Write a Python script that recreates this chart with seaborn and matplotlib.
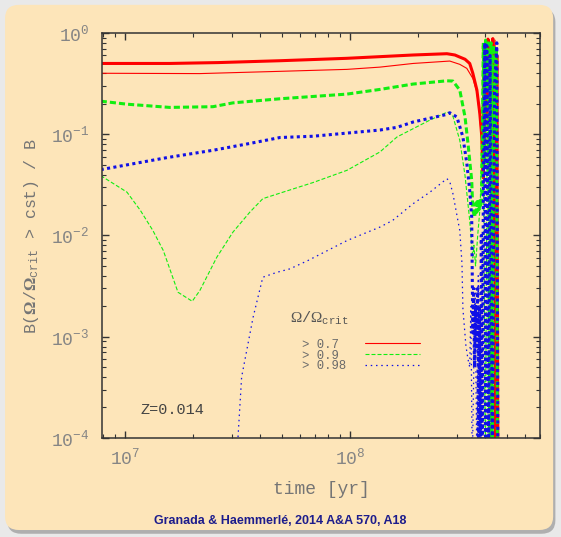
import numpy as np
import pandas as pd
import matplotlib
matplotlib.use("Agg")
import matplotlib.pyplot as plt
import seaborn as sns
from matplotlib.patches import FancyBboxPatch
from matplotlib.ticker import LogLocator, FuncFormatter, NullFormatter

# ---------------- data (time in yr, fraction B(Omega/Omega_crit > cst)/B) ----------------
red_thick_t = [7.8e6, 1.58e7, 2.6e7, 4.89e7, 9.7e7, 1.91e8, 2.70e8, 2.93e8, 3.08e8, 3.25e8,
               3.41e8, 3.52e8, 3.67e8, 3.78e8, 3.86e8, 3.90e8, 3.92e8, 3.94e8, 3.97e8, 4.02e8,
               4.06e8, 4.11e8, 4.17e8, 4.22e8, 4.28e8, 4.32e8, 4.38e8, 4.45e8, 4.50e8, 4.55e8]
red_thick_b = [0.50, 0.50, 0.51, 0.532, 0.562, 0.606, 0.624, 0.606, 0.578, 0.55,
               0.50, 0.40, 0.273, 0.161, 0.094, 0.044, 0.037, 0.40, 0.06, 0.80,
               0.15, 0.87, 0.30, 0.75, 0.20, 0.88, 0.10, 5e-5, 0.60, 5e-5]

red_thin_t = [7.8e6, 2.15e7, 4.89e7, 9.7e7, 1.36e8, 1.91e8, 2.78e8, 3.08e8, 3.31e8, 3.52e8,
              3.67e8, 3.78e8, 3.86e8, 3.90e8, 3.95e8, 4.00e8, 4.08e8, 4.15e8, 4.25e8, 4.35e8,
              4.42e8, 4.47e8]
red_thin_b = [0.40, 0.397, 0.418, 0.437, 0.46, 0.50, 0.528, 0.49, 0.447, 0.356,
              0.26, 0.15, 0.08, 0.045, 0.70, 0.10, 0.85, 0.25, 0.80, 0.30,
              0.85, 5e-5]

green_thick_t = [7.8e6, 1.02e7, 1.58e7, 2.46e7, 3.02e7, 4.89e7, 9.7e7, 1.36e8, 1.91e8, 2.70e8,
                 2.87e8, 3.08e8, 3.25e8, 3.35e8, 3.48e8, 3.52e8, 3.59e8, 3.63e8, 3.67e8, 3.71e8,
                 3.75e8, 3.78e8, 3.82e8, 3.86e8, 3.92e8, 3.96e8, 4.01e8, 4.06e8, 4.12e8, 4.19e8,
                 4.24e8, 4.30e8, 4.36e8, 4.42e8, 4.48e8, 4.53e8]
green_thick_b = [0.212, 0.198, 0.184, 0.187, 0.204, 0.224, 0.249, 0.277, 0.313, 0.337,
                 0.335, 0.273, 0.148, 0.081, 0.035, 0.0177, 0.0152, 0.021, 0.017, 0.023,
                 0.018, 0.022, 0.019, 0.025, 0.80, 0.05, 0.85, 0.30, 0.80, 5e-5,
                 0.80, 5e-5, 0.75, 0.10, 0.70, 5e-5]

green_thin_t = [7.8e6, 1.02e7, 1.17e7, 1.33e7, 1.48e7, 1.72e7, 1.99e7, 2.15e7, 2.56e7, 3.02e7,
                3.59e7, 4.10e7, 4.89e7, 6.85e7, 9.7e7, 1.36e8, 1.62e8, 2.27e8, 2.72e8, 2.87e8,
                3.08e8, 3.25e8, 3.41e8, 3.52e8, 3.56e8, 3.62e8, 3.70e8, 3.80e8, 3.90e8, 4.00e8,
                4.10e8, 4.25e8]
green_thin_b = [0.039, 0.0268, 0.0177, 0.0112, 0.0071, 0.00275, 0.00224, 0.00285, 0.0061, 0.0108,
                0.017, 0.0231, 0.0262, 0.0333, 0.044, 0.0668, 0.094, 0.138, 0.166, 0.151,
                0.087, 0.039, 0.014, 0.006, 0.008, 0.005, 0.010, 0.020, 0.60, 5e-5,
                0.80, 5e-5]

blue_thick_t = [7.8e6, 1.54e7, 2.46e7, 3.59e7, 4.89e7, 6.85e7, 1.36e8, 1.62e8, 1.91e8, 2.70e8,
                2.78e8, 2.99e8, 3.18e8, 3.31e8, 3.41e8, 3.48e8, 3.50e8, 3.52e8, 3.55e8, 3.58e8,
                3.62e8, 3.66e8, 3.70e8, 3.73e8, 3.76e8, 3.80e8, 3.84e8, 3.88e8, 3.92e8, 3.98e8,
                4.02e8, 4.06e8, 4.14e8, 4.20e8, 4.30e8, 4.40e8, 4.50e8, 4.55e8]
blue_thick_b = [0.0447, 0.0588, 0.0694, 0.0811, 0.0928, 0.0955, 0.110, 0.117, 0.132, 0.157,
                0.163, 0.148, 0.094, 0.0516, 0.0279, 0.0152, 0.004, 0.0011, 0.003, 0.0005,
                0.002, 0.0008, 0.003, 5e-5, 0.002, 5e-5, 0.01, 5e-5, 0.03, 0.80,
                5e-5, 0.75, 5e-5, 0.60, 5e-5, 0.30, 0.80, 5e-5]

blue_thin_t = [3.12e7, 3.30e7, 3.71e7, 4.10e7, 4.74e7, 5.41e7, 6.50e7, 9.7e7, 1.36e8, 1.55e8,
               1.91e8, 2.27e8, 2.70e8, 2.78e8, 2.87e8, 3.02e8, 3.08e8, 3.15e8, 3.18e8, 3.28e8,
               3.35e8, 3.41e8, 3.45e8, 3.50e8, 3.60e8, 3.67e8, 3.72e8, 3.80e8]
blue_thin_b = [5e-5, 4e-4, 0.00155, 0.00387, 0.00433, 0.00468, 0.00565, 0.0089, 0.0121, 0.0141,
               0.0206, 0.0268, 0.0364, 0.034, 0.026, 0.0141, 0.0112, 0.00528, 0.0019, 0.00081,
               0.0006, 0.0005, 0.002, 5e-5, 0.003, 5e-5, 0.004, 5e-5]

legend_labels = ["> 0.7 ", "> 0.9 ", "> 0.98"]

# ---------------- style ----------------
sns.set_theme(style="ticks")
plt.rcParams.update({
    "font.family": ["Liberation Mono", "DejaVu Sans"],
    "mathtext.fontset": "custom",
    "mathtext.rm": "Liberation Mono",
    "mathtext.it": "Liberation Mono",
    "mathtext.bf": "Liberation Serif:bold",
    "mathtext.sf": "Liberation Serif",
    "mathtext.default": "rm",
})

PANEL = "#fde5b9"
RED, GREEN, BLUE = "#ff0000", "#11ee11", "#1010e6"

fig = plt.figure(figsize=(5.61, 5.37), dpi=100, facecolor="#e9e9e9")
shadow = FancyBboxPatch((0.013, 0.006), 0.977, 0.978,
                        boxstyle="round,pad=0,rounding_size=0.025",
                        transform=fig.transFigure, facecolor="#9c9c9c",
                        edgecolor="none", alpha=0.75, zorder=-3)
panel = FancyBboxPatch((0.009, 0.013), 0.977, 0.978,
                       boxstyle="round,pad=0,rounding_size=0.025",
                       transform=fig.transFigure, facecolor=PANEL,
                       edgecolor="none", zorder=-2)
fig.patches.extend([shadow, panel])

ax = fig.add_axes([0.1818, 0.1844, 0.7807, 0.7542])
ax.set_facecolor(PANEL)
ax.set_xscale("log")
ax.set_yscale("log")


def draw(t, b, color, lw, dashes):
    sns.lineplot(x=t, y=b, ax=ax, color=color, linewidth=lw, sort=False,
                 estimator=None, legend=False)
    ln = ax.lines[-1]
    if dashes is not None:
        ln.set_dashes(dashes)
    ln.set_dash_capstyle("butt")
    return ln


l_bthin = draw(blue_thin_t, blue_thin_b, BLUE, 0.9, (1.2, 3.0))
l_gthin = draw(green_thin_t, green_thin_b, GREEN, 0.8, (3.6, 1.8))
l_rthin = draw(red_thin_t, red_thin_b, RED, 0.8, None)
draw(red_thick_t, red_thick_b, RED, 2.2, None)
draw(green_thick_t, green_thick_b, GREEN, 2.2, (2.0, 1.0))
draw(blue_thick_t, blue_thick_b, BLUE, 2.2, (1.0, 1.1))

ax.set_xlim(7.9e6, 7.0e8)
ax.set_ylim(1e-4, 1)

fmt = FuncFormatter(lambda v, p: r"$10^{%d}$" % int(round(np.log10(v))))
for axis in (ax.xaxis, ax.yaxis):
    axis.set_major_locator(LogLocator(base=10, numticks=12))
    axis.set_minor_locator(LogLocator(base=10, subs=np.arange(2, 10), numticks=12))
    axis.set_minor_formatter(NullFormatter())
    axis.set_major_formatter(fmt)

ax.tick_params(which="both", direction="in", top=True, right=True,
               color="#333333", labelcolor="#858585")
ax.tick_params(which="major", length=5, width=1.0)
ax.tick_params(which="minor", length=3, width=0.8)
ax.tick_params(axis="y", pad=9, labelsize=13)
ax.tick_params(axis="x", pad=7, labelsize=13)
for s in ax.spines.values():
    s.set_color("#333333")
    s.set_linewidth(1.1)

ax.set_xlabel("time [yr]", fontsize=13, color="#757575")
ax.xaxis.set_label_coords(0.5, -0.105)
ax.set_ylabel(r"B($\mathbf{\Omega}$/$\mathbf{\Omega}_{\mathrm{crit}}$ > cst) / B",
              fontsize=12, color="#757575")
ax.yaxis.set_label_coords(-0.14, 0.5)

ax.text(0.429, 0.296, r"$\mathsf{\Omega}$/$\mathsf{\Omega}_{\mathrm{crit}}$",
        transform=ax.transAxes, ha="left", va="center", fontsize=11, color="#555555")
leg = ax.legend(handles=[l_rthin, l_gthin, l_bthin], labels=legend_labels,
                loc="upper left", bbox_to_anchor=(0.457, 0.245), frameon=False,
                markerfirst=False, borderpad=0, borderaxespad=0,
                handlelength=4.5, handletextpad=1.5, labelspacing=-0.1,
                prop={"family": "Liberation Mono", "size": 8.8})
for txt in leg.get_texts():
    txt.set_color("#6a6a6a")

ax.text(0.087, 0.069, "Z=0.014", transform=ax.transAxes, ha="left", va="center",
        fontsize=11, color="#444444")

fig.text(0.499, 1 - 521 / 537, "Granada & Haemmerlé, 2014 A&A 570, A18",
         ha="center", va="center", family=["Liberation Sans", "DejaVu Sans"],
         weight="bold", fontsize=9, color="#1c1c8c")

fig.savefig("out.png", dpi=100, facecolor=fig.get_facecolor())
